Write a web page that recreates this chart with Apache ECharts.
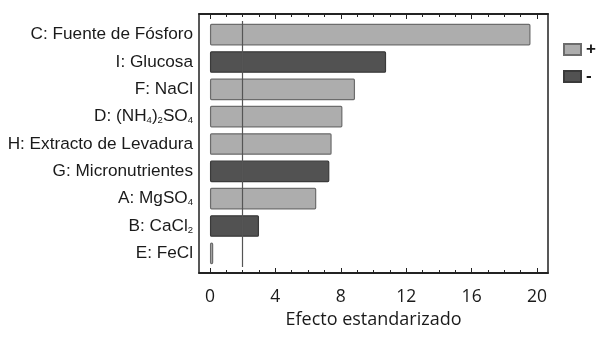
<!DOCTYPE html>
<html>
<head>
<meta charset="utf-8">
<style>
    html, body {margin: 0; padding: 0; background: #fff;}
    #pareto {width: 607px; height: 344px;}
</style>
<script src="https://cdn.jsdelivr.net/npm/echarts@6/dist/echarts.min.js"></script>
</head>
<body>
<div id="pareto"></div>
<script>
// 因子名称 (数字会显示成下标)
var factorNames = ['C: Fuente de Fósforo', 'I: Glucosa', 'F: NaCl', 'D: (NH4)2SO4', 'H: Extracto de Levadura', 'G: Micronutrientes', 'A: MgSO4', 'B: CaCl2', 'E: FeCl'];
// 标准化效应
var effectValues = [19.6, 10.77, 8.87, 8.1, 7.44, 7.3, 6.5, 3.0, 0.2];
// 效应符号
var effectSigns = ['+', '-', '+', '+', '+', '-', '+', '-', '+'];
var majorTicks = [0, 4, 8, 12, 16, 20];
var minorTicks = [0, 1, 2, 3, 4, 5, 6, 7, 8, 9, 10, 11, 12, 13, 14, 15, 16, 17, 18, 19, 20];
var criticalValue = 2.0;
var axisMin = -0.67, axisMax = 20.67;

var plusData = [];
var minusData = [];
effectValues.forEach(function(v, i) {
    plusData.push(effectSigns[i] === '+' ? v : null);
    minusData.push(effectSigns[i] === '-' ? v : null);
})

// 刻度轴: 用负 offset 翻到外框对边, 刻度朝外 = 朝里
function tickAxis(position, values, len) {
    return {
        type: 'value',
        gridIndex: 0,
        position: position,
        offset: position === 'top' ? -252 : -253,
        min: axisMin,
        max: axisMax,
        axisLine: {show: true, onZero: false, lineStyle: {color: '#222', width: 1.5}},
        splitLine: {show: false},
        axisLabel: {show: false},
        axisTick: {
            show: true,
            length: len,
            customValues: values,
            lineStyle: {color: '#222', width: 1}
        }
    };
}

var paretoOption = {
    animation: false,
    legend: {
        orient: 'vertical',
        left: 558,
        top: 36,
        itemWidth: 17,
        itemHeight: 11,
        itemGap: 10,
        icon: 'rect',
        textStyle: {fontFamily: 'Liberation Sans', fontSize: 17, fontWeight: 'bold', color: '#1a1a1a'},
        data: ['+', '-']
    },
    grid: [{
        left: 199,
        right: 59,
        top: 21,
        bottom: 77,
        show: false
    }, {
        // 外框
        left: 199,
        right: 59,
        top: 14,
        bottom: 71,
        show: true,
        borderColor: '#222',
        borderWidth: 1.5,
        backgroundColor: 'rgba(0,0,0,0)'
    }],
    xAxis: [{
        type: 'value',
        gridIndex: 0,
        position: 'bottom',
        offset: 6,
        min: axisMin,
        max: axisMax,
        axisLine: {show: false},
        axisTick: {show: false},
        splitLine: {show: false},
        axisLabel: {
            show: true,
            customValues: majorTicks,
            margin: 15,
            fontFamily: 'Open Sans',
            fontSize: 17.5,
            color: '#1a1a1a'
        },
        name: 'Efecto estandarizado',
        nameLocation: 'middle',
        nameGap: 36,
        nameTextStyle: {fontFamily: 'Open Sans', fontSize: 18, color: '#1a1a1a'}
    },
        tickAxis('top', majorTicks, 5),
        tickAxis('top', minorTicks, 3),
        tickAxis('bottom', majorTicks, 5),
        tickAxis('bottom', minorTicks, 3),
    {
        type: 'value',
        gridIndex: 1,
        show: false,
        min: axisMin,
        max: axisMax
    }],
    yAxis: [{
        type: 'category',
        gridIndex: 0,
        inverse: true,
        data: factorNames,
        axisLine: {show: false},
        axisTick: {show: false},
        axisLabel: {
            margin: 6,
            formatter: function(value) {
                return '{n|' + value.replace(/(\d)/g, '}{s|$1}{n|') + '}';
            },
            rich: {
                n: {fontFamily: 'Liberation Sans', fontSize: 17.2, color: '#1a1a1a'},
                s: {fontFamily: 'Liberation Sans', fontSize: 9.5, color: '#1a1a1a', verticalAlign: 'bottom', padding: [8, 0, 0, 0]}
            }
        }
    }, {
        type: 'category',
        gridIndex: 1,
        show: false,
        data: factorNames
    }],
    series: [{
        name: '+',
        type: 'bar',
        stack: 'efecto',
        barWidth: '79%',
        itemStyle: {color: '#adadad', borderColor: '#6c6c6c', borderWidth: 1.2, borderRadius: 1},
        data: plusData,
        markLine: {
            silent: true,
            symbol: 'none',
            label: {show: false},
            lineStyle: {color: '#555', width: 1.2, type: 'solid'},
            data: [{xAxis: criticalValue}]
        }
    }, {
        name: '-',
        type: 'bar',
        stack: 'efecto',
        barWidth: '79%',
        itemStyle: {color: '#525252', borderColor: '#3a3a3a', borderWidth: 1.2, borderRadius: 1},
        data: minusData
    }]
};

var paretoChart = echarts.init(document.getElementById('pareto'));
paretoChart.setOption(paretoOption);
window.addEventListener("resize", function () {
    paretoChart.resize();
});
</script>
</body>
</html>
